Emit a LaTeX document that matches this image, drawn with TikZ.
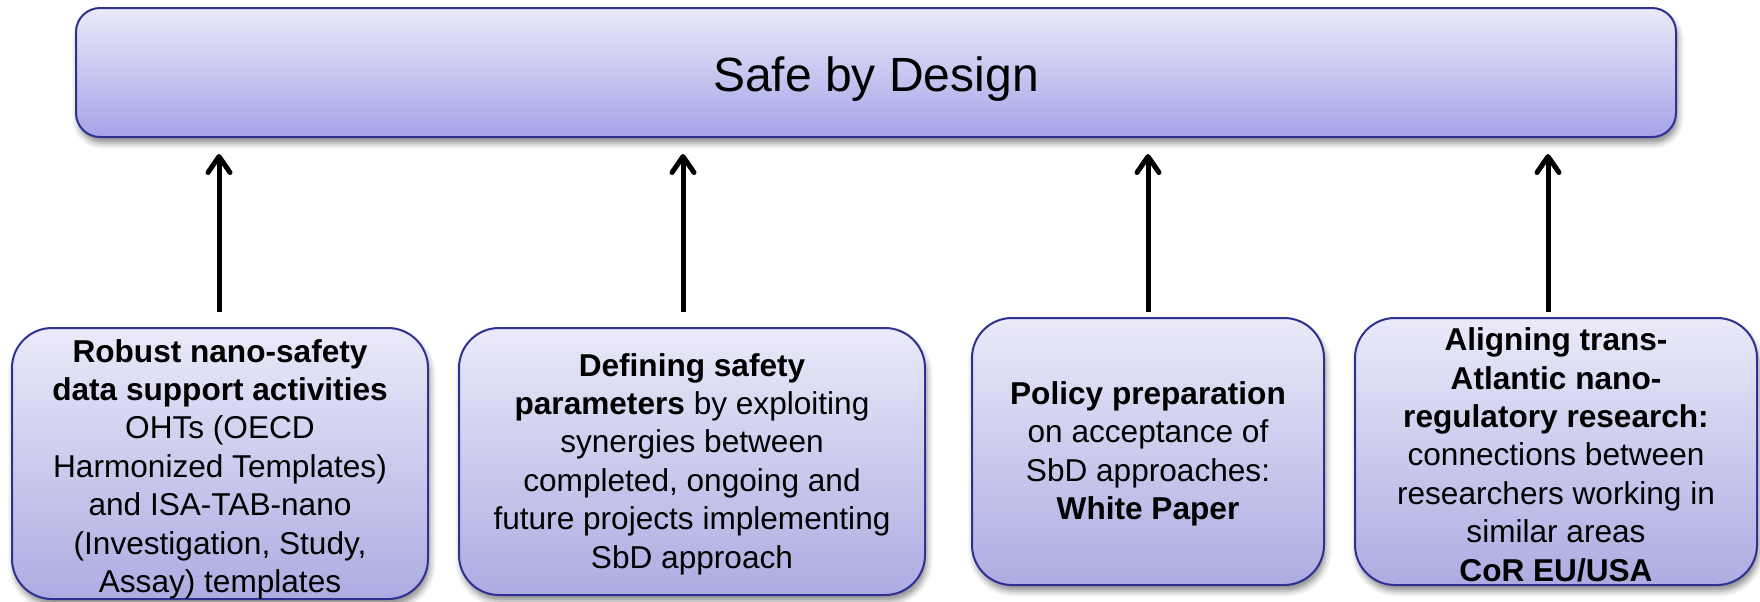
\documentclass[tikz,border=0pt]{standalone}
\usepackage{fontspec}
\setmainfont{Liberation Sans}
\usetikzlibrary{arrows.meta,shadows.blur}
\definecolor{boxedge}{RGB}{46,48,146}
\definecolor{boxtop}{RGB}{234,234,249}
\definecolor{topbot}{RGB}{164,164,232}
\definecolor{subbot}{RGB}{172,172,226}
\tikzset{
  sbox/.style={draw=boxedge, line width=1pt, top color=boxtop,
    blur shadow={shadow xshift=1pt, shadow yshift=-3pt, shadow blur radius=3pt, shadow opacity=45},
    inner sep=0pt},
  topbox/.style={sbox, bottom color=topbot, rounded corners=12pt, font=\fontsize{24pt}{28pt}\selectfont,
    text height=20pt, text depth=0.6pt},
  subbox/.style={sbox, bottom color=subbot, rounded corners=20pt},
  subtext/.style={align=center, inner sep=0pt, font=\fontsize{15.8pt}{19.2pt}\selectfont},
  uparrow/.style={line width=2.5pt, -{Straight Barb[length=8pt,width=11pt,line cap=round,line join=round]}}
}
\begin{document}
\begin{tikzpicture}[x=0.5pt,y=-0.5pt]
\useasboundingbox (0,0) rectangle (1760,601);
\node[topbox, minimum width=800pt, minimum height=64.5pt] (top) at (876,72.5) {Safe by Design};
\node[subbox, minimum width=208pt, minimum height=135.5pt] (b1) at (220,463.5) {};
\node[subbox, minimum width=233pt, minimum height=133.5pt] (b2) at (692,461.5) {};
\node[subbox, minimum width=176pt, minimum height=133.5pt] (b3) at (1148,451.5) {};
\node[subbox, minimum width=201pt, minimum height=133.5pt] (b4) at (1556,451.5) {};
\node[subtext, yshift=-2.8pt] (t1) at (b1.center)
  {\textbf{Robust nano-safety}\\ \textbf{data support activities}\\ OHTs (OECD\\ Harmonized Templates)\\ and ISA-TAB-nano\\ (Investigation, Study,\\ Assay) templates};
\node[subtext, yshift=-1.2pt] (t2) at (b2.center)
  {\textbf{Defining safety}\\ \textbf{parameters} by exploiting\\ synergies between\\ completed, ongoing and\\ future projects implementing\\ SbD approach};
\node[subtext, yshift=-1.2pt] (t3) at (b3.center)
  {\textbf{Policy preparation}\\ on acceptance of\\ SbD approaches:\\ \textbf{White Paper}};
\node[subtext, yshift=-1.6pt] (t4) at (b4.center)
  {\textbf{Aligning trans-}\\ \textbf{Atlantic nano-}\\ \textbf{regulatory research:}\\ connections between\\ researchers working in\\ similar areas\\ \textbf{CoR EU/USA}};
\coordinate (x1) at (219,0);
\coordinate (x2) at (683,0);
\coordinate (x3) at (1148,0);
\coordinate (x4) at (1548,0);
\draw[uparrow, shorten <=7.5pt, shorten >=8pt] (b1.north -| x1) -- (top.south -| x1);
\draw[uparrow, shorten <=7.5pt, shorten >=8pt] (b2.north -| x2) -- (top.south -| x2);
\draw[uparrow, shorten <=2.5pt, shorten >=8pt] (b3.north -| x3) -- (top.south -| x3);
\draw[uparrow, shorten <=2.5pt, shorten >=8pt] (b4.north -| x4) -- (top.south -| x4);
\end{tikzpicture}
\end{document}
